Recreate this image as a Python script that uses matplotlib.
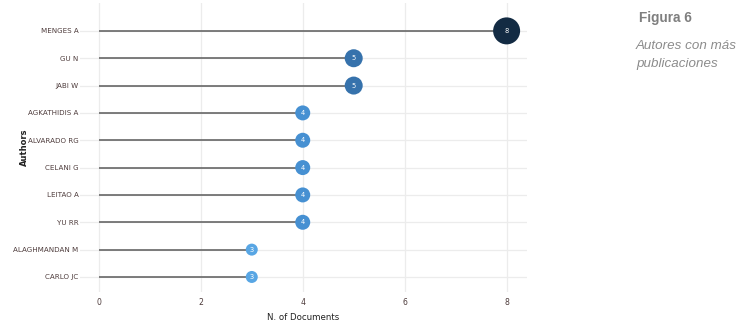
import numpy as np
import matplotlib.pyplot as plt
from matplotlib.colors import LinearSegmentedColormap

authors = ["MENGES A", "GU N", "JABI W", "AGKATHIDIS A", "ALVARADO RG",
           "CELANI G", "LEITAO A", "YU RR", "ALAGHMANDAN M", "CARLO JC"]
docs = [8, 5, 5, 4, 4, 4, 4, 4, 3, 3]

# plot bottom-up so the first author sits at the top
authors = authors[::-1]
docs = np.array(docs[::-1])
ypos = np.arange(len(authors))

cmap = LinearSegmentedColormap.from_list(
    "blues", [(0, "#58A6E4"), (0.2, "#4690D2"), (0.4, "#3672AC"), (1, "#132B43")])
norm = (docs - docs.min()) / (docs.max() - docs.min())
colors = cmap(norm)
# marker diameter in pixels, grows with the count
diam_px = 12 + (docs - 3) * 3
sizes = (diam_px * 0.72) ** 2

fig = plt.figure(figsize=(7.52, 3.30), dpi=100)
ax = fig.add_axes([80/752, 1 - 292/330, 447/752, 289/330])

ax.hlines(ypos, 0, docs, color="#5a5a5a", linewidth=1.1, zorder=2)
ax.scatter(docs, ypos, s=sizes, c=colors, zorder=3, edgecolors="none")
for x, y in zip(docs, ypos):
    ax.text(x, y, str(x), color="white", fontsize=4.8, ha="center", va="center", zorder=4)

ax.set_xlim(-0.37, 8.4)
ax.set_ylim(-0.55, 10.02)
ax.set_yticks(ypos)
ax.set_yticklabels(authors)
ax.set_xticks([0, 2, 4, 6, 8])
ax.grid(True, color="#ececec", linewidth=0.9, zorder=0)
ax.set_axisbelow(True)
for s in ax.spines.values():
    s.set_visible(False)
ax.tick_params(axis="both", length=0, labelcolor="#4d3b3b")
ax.tick_params(axis="y", pad=1, labelsize=5.1)
ax.tick_params(axis="x", pad=4, labelsize=5.6)
ax.set_xlabel("N. of Documents", fontsize=6.2, color="#222222", labelpad=5)
ax.set_ylabel("Authors", fontsize=6, color="#222222", fontweight="bold")
ax.yaxis.set_label_coords((29 - 80) / 447, 0.5)

fig.text(639/752, 1 - 18/330, "Figura 6", fontsize=9.8, fontweight="bold",
         color="#7f7f7f", va="center", family="Liberation Sans")
fig.text(636/752, 1 - 55/330, "Autores con más\npublicaciones", fontsize=9.6,
         style="italic", color="#8c8c8c", va="center", linespacing=1.6,
         family="Liberation Sans")

fig.savefig("out.png", dpi=100)
